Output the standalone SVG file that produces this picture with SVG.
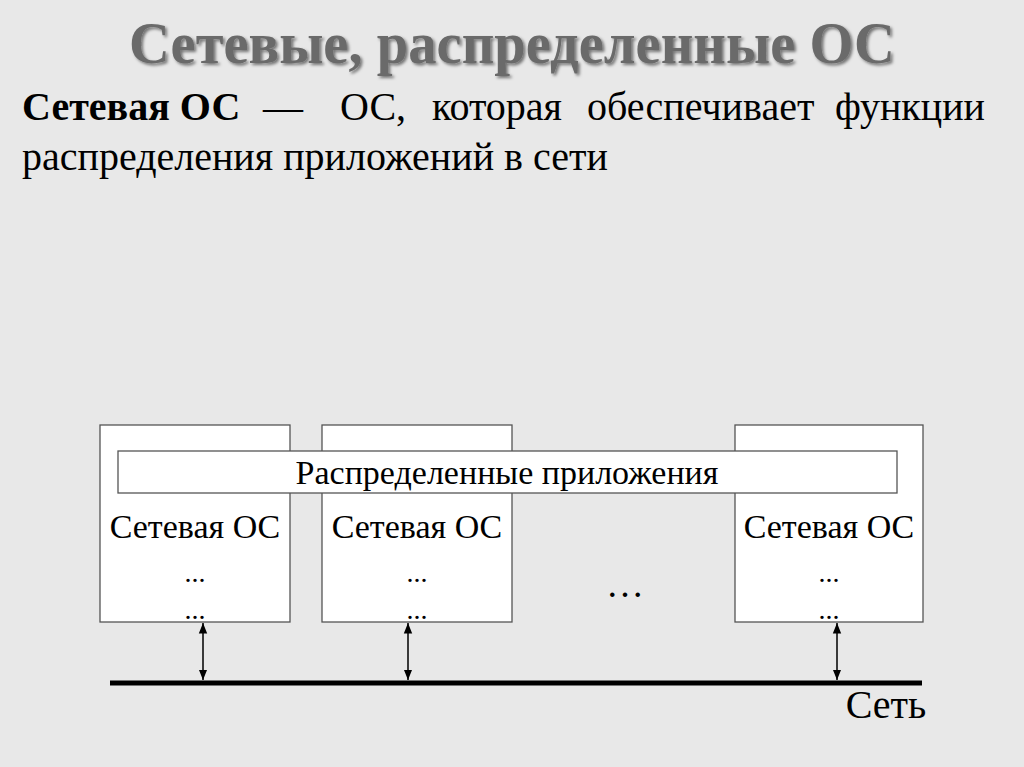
<svg xmlns="http://www.w3.org/2000/svg" width="1024" height="767" viewBox="0 0 1024 767">
<style>
text{font-family:"Liberation Serif","Times New Roman",serif;fill:#000}
.box{fill:#fff;stroke:#555;stroke-width:1.3}
.lbl{font-size:34px;text-anchor:middle}
.dots{font-size:28px;text-anchor:middle}
.body{font-size:40px}
.arr{stroke:#000;stroke-width:1.5;marker-start:url(#ah);marker-end:url(#ah)}
</style>
<defs>
<marker id="ah" viewBox="0 0 10 10" refX="10" refY="5" markerWidth="7" markerHeight="7" orient="auto-start-reverse"><path d="M0,1 L10,5 L0,9 Z" fill="#000"/></marker>
<filter id="sh"><feDropShadow dx="2" dy="2" stdDeviation="1.5" flood-color="#000" flood-opacity="0.5"/></filter>
</defs>
<rect width="1024" height="767" fill="#e8e8e8"/>
<text x="512" y="63" text-anchor="middle" font-size="60" font-weight="bold" style="fill:#6b6b6b" filter="url(#sh)" textLength="766" lengthAdjust="spacingAndGlyphs">Сетевые, распределенные ОС</text>
<text class="body" x="22" y="120" font-weight="bold">Сетевая ОС</text>
<text class="body" x="263" y="120">—</text>
<text class="body" x="340" y="120">ОС,</text>
<text class="body" x="432" y="120">которая</text>
<text class="body" x="587" y="120">обеспечивает</text>
<text class="body" x="985" y="120" text-anchor="end">функции</text>
<text class="body" x="22" y="170">распределения приложений в сети</text>
<g id="node1"><rect class="box" x="100" y="425" width="190" height="197"/><text class="lbl" x="195" y="538">Сетевая ОС</text><text class="dots" x="195" y="582">...</text><text class="dots" x="195" y="619">...</text></g>
<g id="node2"><rect class="box" x="322" y="425" width="190" height="197"/><text class="lbl" x="417" y="538">Сетевая ОС</text><text class="dots" x="417" y="582">...</text><text class="dots" x="417" y="619">...</text></g>
<g id="node3"><rect class="box" x="735" y="425" width="188" height="197"/><text class="lbl" x="829" y="538">Сетевая ОС</text><text class="dots" x="829" y="582">...</text><text class="dots" x="829" y="619">...</text></g>
<g id="banner"><rect class="box" x="118" y="451" width="779" height="42"/><text class="lbl" x="507" y="484">Распределенные приложения</text></g>
<text x="625" y="597" font-size="38" text-anchor="middle">…</text>
<g id="network"><line x1="110" y1="683" x2="922" y2="683" stroke="#000" stroke-width="5"/><text x="886" y="718" font-size="40" text-anchor="middle">Сеть</text></g>
<g id="connectors">
<line class="arr" x1="203" y1="623" x2="203" y2="680"/>
<line class="arr" x1="408" y1="623" x2="408" y2="680"/>
<line class="arr" x1="837" y1="623" x2="837" y2="680"/>
</g>
</svg>
